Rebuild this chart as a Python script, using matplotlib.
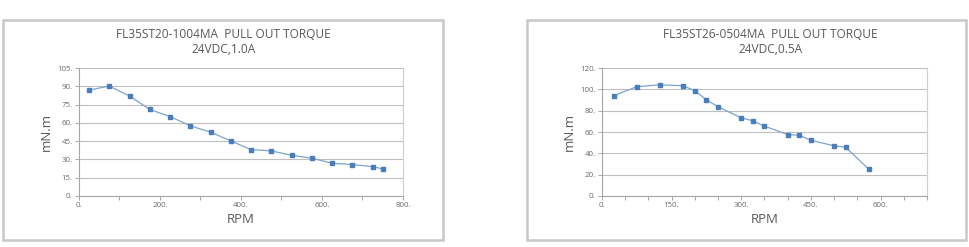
import matplotlib
matplotlib.use("Agg")
import matplotlib.pyplot as plt
from matplotlib.ticker import MultipleLocator, FormatStrFormatter
from matplotlib.patches import Rectangle

plt.rcParams['font.family'] = ['Open Sans', 'DejaVu Sans']

# Chart 1 data
rpm1 = [25, 75, 125, 175, 225, 275, 325, 375, 425, 475, 525, 575, 625, 675, 725, 750]
torque1 = [86.9, 90.2, 82.0, 71.0, 65.2, 57.6, 52.4, 45.2, 38.1, 37.0, 33.4, 31.0, 26.9, 25.8, 24.1, 22.2]
title1 = ["FL35ST20-1004MA  PULL OUT TORQUE", "24VDC,1.0A"]

# Chart 2 data
rpm2 = [25, 75, 125, 175, 200, 225, 250, 300, 325, 350, 400, 425, 450, 500, 525, 575]
torque2 = [94.0, 102.5, 104.3, 103.4, 98.7, 90.2, 83.7, 73.3, 70.5, 65.5, 57.6, 57.0, 52.3, 47.0, 45.7, 25.0]
title2 = ["FL35ST26-0504MA  PULL OUT TORQUE", "24VDC,0.5A"]

xlabel = "RPM"
ylabel = "mN.m"

fig = plt.figure(figsize=(9.7, 2.47), dpi=100)
fig.patch.set_facecolor('white')

LINE_C = '#7ba4cf'
MARK_C = '#4a7ebb'
GRID_C = '#bfbfbf'
TXT_C = '#595959'

def make(ax_rect, box_rect, title_x, x, y, title, xlim, ylim, xmaj, xmin, ymaj):
    fig.patches.append(Rectangle((box_rect[0], box_rect[1]), box_rect[2], box_rect[3],
                                 transform=fig.transFigure, fill=False,
                                 edgecolor='#c8c8c8', linewidth=1.8))
    ax = fig.add_axes(ax_rect)
    ax.plot(x, y, color=LINE_C, linewidth=0.9, marker='s', markersize=3.2,
            markerfacecolor=MARK_C, markeredgecolor=MARK_C, zorder=3)
    ax.set_xlim(*xlim)
    ax.set_ylim(*ylim)
    ax.xaxis.set_major_locator(MultipleLocator(xmaj))
    ax.xaxis.set_minor_locator(MultipleLocator(xmin))
    ax.yaxis.set_major_locator(MultipleLocator(ymaj))
    ax.xaxis.set_major_formatter(FormatStrFormatter('%d.'))
    ax.yaxis.set_major_formatter(FormatStrFormatter('%d.'))
    ax.grid(axis='y', color=GRID_C, linewidth=0.8)
    ax.spines['top'].set_visible(False)
    ax.spines['right'].set_color('#d0d0d0')
    ax.spines['right'].set_linewidth(0.8)
    ax.spines['left'].set_color('#a6a6a6')
    ax.spines['bottom'].set_color('#a6a6a6')
    ax.spines['left'].set_linewidth(0.8)
    ax.spines['bottom'].set_linewidth(0.8)
    ax.tick_params(axis='both', which='both', direction='out', color='#a6a6a6',
                   labelsize=5.7, labelcolor='#6a6a6a', width=0.7)
    ax.tick_params(axis='both', which='major', length=3, pad=1.5)
    ax.tick_params(axis='x', which='minor', length=3)
    ax.set_xlabel(xlabel, fontsize=9.5, color=TXT_C, labelpad=3)
    ax.set_ylabel(ylabel, fontsize=9.5, color=TXT_C, labelpad=3)
    fig.text(title_x, 0.862, title[0], ha='center', va='center', fontsize=8.6, color=TXT_C)
    fig.text(title_x, 0.798, title[1], ha='center', va='center', fontsize=8.6, color=TXT_C)
    return ax

make([0.0814, 0.2065, 0.334, 0.518], [0.0031, 0.0283, 0.4536, 0.8907], 0.230,
     rpm1, torque1, title1, (0, 800), (0, 105), 200, 100, 15)
make([0.6206, 0.2065, 0.335, 0.518], [0.5433, 0.0283, 0.4526, 0.8907], 0.794,
     rpm2, torque2, title2, (0, 700), (0, 120), 150, 50, 20)

fig.savefig('out.png', dpi=100, facecolor='white')
